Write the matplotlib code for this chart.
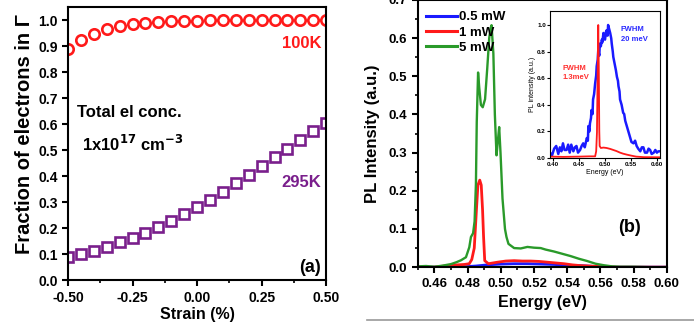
import matplotlib
matplotlib.use("Agg")
import matplotlib.pyplot as plt
from matplotlib.lines import Line2D
from matplotlib.ticker import MultipleLocator

plt.rcParams['font.family'] = ['Liberation Sans', 'DejaVu Sans']
plt.rcParams['font.weight'] = 'bold'

# (a) fraction of electrons in Gamma vs strain
strain = [-0.50, -0.45, -0.40, -0.35, -0.30, -0.25, -0.20, -0.15, -0.10, -0.05, 0.00,
          0.05, 0.10, 0.15, 0.20, 0.25, 0.30, 0.35, 0.40, 0.45, 0.50]
frac_100k = [0.890, 0.925, 0.948, 0.965, 0.977, 0.985, 0.990, 0.993, 0.995, 0.997, 0.998,
             0.999, 0.999, 0.999, 1.000, 1.000, 1.000, 1.000, 1.000, 1.000, 1.000]
frac_295k = [0.090, 0.100, 0.113, 0.128, 0.145, 0.163, 0.183, 0.205, 0.228, 0.253, 0.280,
             0.310, 0.340, 0.372, 0.405, 0.438, 0.472, 0.505, 0.538, 0.572, 0.605]

# (b) PL spectra
e_5mw = [0.450, 0.455, 0.460, 0.465, 0.470, 0.4733, 0.476, 0.479, 0.481, 0.482, 0.4833, 0.4842,
         0.485, 0.4855, 0.4863, 0.4870, 0.4880, 0.4891, 0.4905, 0.4918, 0.4930, 0.4938, 0.4944,
         0.4955, 0.4964, 0.4974, 0.4982, 0.4990, 0.4998, 0.5010, 0.5025, 0.5034, 0.5046, 0.508,
         0.512, 0.516, 0.520, 0.524, 0.527, 0.532, 0.537, 0.542, 0.547, 0.552, 0.557, 0.562,
         0.567, 0.572, 0.580, 0.590, 0.600]
i_5mw = [0.002, 0.003, 0.001, 0.004, 0.008, 0.013, 0.018, 0.026, 0.052, 0.079, 0.089, 0.120,
         0.218, 0.380, 0.510, 0.470, 0.425, 0.419, 0.440, 0.520, 0.600, 0.625, 0.634,
         0.560, 0.400, 0.293, 0.330, 0.367, 0.300, 0.180, 0.100, 0.079, 0.061, 0.050,
         0.049, 0.053, 0.051, 0.050, 0.046, 0.041, 0.035, 0.029, 0.022, 0.016, 0.009, 0.005,
         0.002, 0.001, 0.001, 0.000, 0.000]

e_1mw = [0.450, 0.460, 0.468, 0.474, 0.478, 0.481, 0.4825, 0.4840, 0.4853, 0.4862, 0.4873,
         0.4882, 0.4890, 0.4896, 0.4903, 0.4925, 0.498, 0.503, 0.508, 0.513, 0.518, 0.523,
         0.528, 0.533, 0.538, 0.543, 0.548, 0.558, 0.570, 0.600]
i_1mw = [0.000, 0.000, 0.004, 0.006, 0.007, 0.009, 0.020, 0.050, 0.150, 0.215, 0.228,
         0.215, 0.150, 0.080, 0.017, 0.009, 0.013, 0.016, 0.017, 0.016, 0.016, 0.015,
         0.013, 0.011, 0.009, 0.006, 0.004, 0.002, 0.000, 0.000]

e_05mw = [0.450, 0.470, 0.478, 0.485, 0.492, 0.500, 0.508, 0.516, 0.524, 0.532, 0.540,
          0.548, 0.556, 0.565, 0.600]
i_05mw = [0.000, 0.000, 0.001, 0.003, 0.006, 0.008, 0.009, 0.009, 0.008, 0.007, 0.005,
          0.004, 0.002, 0.000, 0.000]

# inset: normalised spectra
e_in_blue = [0.394, 0.398, 0.402, 0.406, 0.410, 0.413, 0.416, 0.419, 0.422, 0.426, 0.429,
             0.432, 0.435, 0.439, 0.442, 0.445, 0.448, 0.452, 0.455, 0.458, 0.461, 0.465,
             0.467, 0.468, 0.470, 0.471, 0.473, 0.474, 0.476, 0.477, 0.479, 0.481, 0.483,
             0.484, 0.486, 0.487, 0.489, 0.490, 0.492, 0.494, 0.495, 0.497, 0.499, 0.500,
             0.502, 0.503, 0.505, 0.506, 0.508, 0.510, 0.512, 0.513, 0.515, 0.516, 0.519,
             0.521, 0.523, 0.525, 0.526, 0.528, 0.529, 0.532, 0.535, 0.537, 0.539, 0.542,
             0.545, 0.548, 0.551, 0.555, 0.558, 0.561, 0.564, 0.568, 0.571, 0.574, 0.577,
             0.581, 0.584, 0.587, 0.590, 0.594, 0.597, 0.600, 0.603, 0.606]
i_in_blue = [0.04, 0.02, 0.07, 0.09, 0.03, 0.08, 0.05, 0.11, 0.06, 0.06, 0.10,
             0.04, 0.10, 0.05, 0.08, 0.09, 0.04, 0.06, 0.09, 0.11, 0.08, 0.15,
             0.13, 0.24, 0.20, 0.26, 0.30, 0.36, 0.33, 0.44, 0.48, 0.56, 0.62,
             0.69, 0.74, 0.81, 0.77, 0.86, 0.84, 0.89, 0.87, 0.94, 0.90, 0.89,
             0.95, 0.96, 0.92, 1.00, 0.97, 0.94, 0.90, 0.86, 0.80, 0.76, 0.70,
             0.66, 0.61, 0.58, 0.54, 0.50, 0.44, 0.40, 0.34, 0.33, 0.28, 0.24,
             0.20, 0.16, 0.12, 0.11, 0.13, 0.09, 0.07, 0.05, 0.08, 0.08, 0.04,
             0.04, 0.07, 0.06, 0.03, 0.04, 0.06, 0.04, 0.05, 0.05]

e_in_red = [0.394, 0.420, 0.450, 0.470, 0.478, 0.481, 0.483, 0.4845, 0.486, 0.4870, 0.4880,
            0.4890, 0.4897, 0.492, 0.497, 0.503, 0.510, 0.516, 0.522, 0.529, 0.535, 0.542,
            0.550, 0.560, 0.575, 0.606]
i_in_red = [0.010, 0.008, 0.010, 0.012, 0.012, 0.012, 0.050, 0.190, 0.690, 1.000, 0.690,
            0.200, 0.090, 0.075, 0.078, 0.075, 0.068, 0.060, 0.052, 0.040, 0.032, 0.025,
            0.018, 0.010, 0.006, 0.005]

fig = plt.figure(figsize=(6.94, 3.25), dpi=100)


def style_axis(ax, size=10, width=1.5, length=4):
    for s in ax.spines.values():
        s.set_linewidth(width)
    ax.tick_params(which='major', direction='out', width=width, length=length,
                   labelsize=size)
    ax.tick_params(which='minor', direction='out', width=width * 0.8, length=length * 0.55)
    for lab in ax.get_xticklabels() + ax.get_yticklabels():
        lab.set_fontweight('bold')


# ---- panel (a)
ax1 = fig.add_axes([0.098, 0.138, 0.372, 0.84])
ax1.plot(strain, frac_100k, 'o', color='#ff1a1a', mfc='none', mew=1.9, ms=7.5)
ax1.plot(strain, frac_295k, 's', color='#7a1f8c', mfc='none', mew=1.9, ms=6.8)
ax1.set_xlim(-0.5, 0.5)
ax1.set_ylim(0, 1.05)
ax1.xaxis.set_minor_locator(MultipleLocator(0.125))
ax1.set_xticks([-0.5, -0.25, 0, 0.25, 0.5])
ax1.set_xticklabels(['-0.50', '-0.25', '0.00', '0.25', '0.50'])
ax1.set_yticks([0.1 * k for k in range(11)])
ax1.set_yticklabels(['%.1f' % (0.1 * k) for k in range(11)])
style_axis(ax1, size=10)
ax1.set_xlabel('Strain (%)', fontsize=11.5, fontweight='bold', labelpad=2)
ax1.set_ylabel('Fraction of electrons in \u0393', fontsize=14.5, fontweight='bold')
ax1.yaxis.set_label_coords(-0.13, 0.535)
ax1.text(0.48, 0.91, '100K', color='#ff1a1a', fontsize=12, fontweight='bold',
         ha='right', va='center')
ax1.text(0.48, 0.377, '295K', color='#7a1f8c', fontsize=12, fontweight='bold',
         ha='right', va='center')
ax1.text(-0.465, 0.645, 'Total el conc.', fontsize=12, fontweight='bold', va='center')
ax1.text(-0.445, 0.525, r'1x10$^{\mathbf{17}}$ cm$^{\mathbf{-3}}$', fontsize=12,
         fontweight='bold', va='center')
ax1.text(0.48, 0.05, '(a)', fontsize=13, fontweight='bold', ha='right', va='center')

# ---- panel (b)
ax2 = fig.add_axes([0.602, 0.178, 0.359, 0.822])
ax2.plot(e_05mw, i_05mw, color='#1a1aff', lw=2, label='0.5 mW')
ax2.plot(e_1mw, i_1mw, color='#ff1a1a', lw=2, label='1 mW')
ax2.plot(e_5mw, i_5mw, color='#2a9a2a', lw=1.7, label='5 mW')
ax2.set_xlim(0.45, 0.60)
ax2.set_ylim(0, 0.7)
ax2.set_xticks([0.46, 0.48, 0.50, 0.52, 0.54, 0.56, 0.58, 0.60])
ax2.set_xticklabels(['0.46', '0.48', '0.50', '0.52', '0.54', '0.56', '0.58', '0.60'])
ax2.xaxis.set_minor_locator(MultipleLocator(0.01))
ax2.set_yticks([0.1 * k for k in range(8)])
ax2.set_yticklabels(['%.1f' % (0.1 * k) for k in range(8)])
ax2.yaxis.set_minor_locator(MultipleLocator(0.05))
style_axis(ax2, size=9.5)
ax2.set_xlabel('Energy (eV)', fontsize=11.5, fontweight='bold', labelpad=4)
ax2.set_ylabel('PL Intensity (a.u.)', fontsize=12, fontweight='bold', labelpad=6)
ax2.text(0.5776, 0.105, '(b)', fontsize=13, fontweight='bold', ha='center', va='center')
leg = ax2.legend(loc='upper left', bbox_to_anchor=(0.0, 0.99), frameon=False,
                 prop={'weight': 'bold', 'size': 9.5}, handlelength=2.3,
                 handletextpad=0.15, labelspacing=0.22, borderaxespad=0.25)
for h in leg.get_lines():
    h.set_linewidth(2.2)

# ---- inset
ax3 = fig.add_axes([0.7925, 0.514, 0.1585, 0.452])
ax3.plot(e_in_blue, i_in_blue, color='#1a1aff', lw=1.8)
ax3.plot(e_in_red, i_in_red, color='#ff1a1a', lw=1.3)
ax3.set_xlim(0.394, 0.606)
ax3.set_ylim(0, 1.105)
ax3.set_xticks([0.40, 0.45, 0.50, 0.55, 0.60])
ax3.set_xticklabels(['0.40', '0.45', '0.50', '0.55', '0.60'])
ax3.set_yticks([0.0, 0.2, 0.4, 0.6, 0.8, 1.0])
ax3.set_yticklabels(['0.0', '0.2', '0.4', '0.6', '0.8', '1.0'])
style_axis(ax3, size=4.5, width=0.8, length=2)
ax3.tick_params(pad=1)
ax3.set_xlabel('Energy (eV)', fontsize=5, labelpad=1)
ax3.set_ylabel('PL intensity (a.u.)', fontsize=5, labelpad=1)
ax3.text(0.419, 0.64, 'FWHM\n1.3meV', color='#ff3030', fontsize=5.5, fontweight='bold',
         va='center', linespacing=1.5)
ax3.text(0.530, 0.93, 'FWHM\n20 meV', color='#2a2aff', fontsize=5.5, fontweight='bold',
         va='center', linespacing=1.5)

# grey rule under panel (b)
fig.add_artist(Line2D([0.529, 1.0], [0.015, 0.015], color='#999999', lw=1.2))

fig.savefig('out.png', dpi=100)
